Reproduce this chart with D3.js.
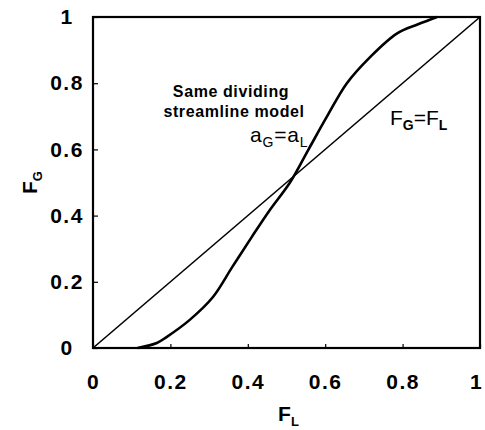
<!DOCTYPE html>
<html>
<head>
<meta charset="utf-8">
<script src="https://cdn.jsdelivr.net/npm/d3@7"></script>
<style>
  body { margin: 0; background: #fff; }
  svg text { font-family: "Liberation Sans", Arial, sans-serif; fill: #000; }
</style>
</head>
<body>
<div id="chart"></div>
<script>
// axis ticks
var ticks = [0, 0.2, 0.4, 0.6, 0.8, 1];
var tickLabels = ["0", "0.2", "0.4", "0.6", "0.8", "1"];

// same dividing streamline model curve
var curveFL = [0.115, 0.165, 0.19, 0.25, 0.31, 0.36, 0.41, 0.457, 0.509, 0.556, 0.604, 0.656, 0.716, 0.785, 0.84, 0.889];
var curveFG = [0, 0.015, 0.033, 0.085, 0.154, 0.245, 0.335, 0.417, 0.5, 0.598, 0.698, 0.8, 0.879, 0.95, 0.978, 1.0];

// FG = FL reference line
var diagFL = [0, 1];
var diagFG = [0, 1];

var margin = { top: 17, right: 5, bottom: 82, left: 93 },
    W = 485, H = 430,
    width = W - margin.left - margin.right,
    height = H - margin.top - margin.bottom;

var x = d3.scaleLinear().domain([0, 1]).range([0, width]);
var y = d3.scaleLinear().domain([0, 1]).range([height, 0]);

var svg = d3.select("#chart").append("svg")
    .attr("width", W)
    .attr("height", H)
  .append("g")
    .attr("transform", "translate(" + margin.left + "," + margin.top + ")");

// bottom axis, ticks pointing inward
var xAxis = svg.append("g")
    .attr("transform", "translate(0," + height + ")")
    .call(d3.axisBottom(x).tickValues(ticks).tickSize(-4).tickPadding(26)
      .tickFormat(function(d, i) { return tickLabels[i]; }));
xAxis.select(".domain").remove();
xAxis.selectAll("line").attr("stroke-width", 1.2);
xAxis.selectAll("text")
    .attr("font-size", 21).attr("font-weight", "bold")
    .attr("letter-spacing", 1.5)
    .attr("dx", function(d) { return d === 1 ? -4 : 0; })
    .attr("font-family", "Liberation Sans, Arial, sans-serif");

// left axis
var yAxis = svg.append("g")
    .call(d3.axisLeft(y).tickValues(ticks).tickSize(-5)
      .tickFormat(function(d, i) { return tickLabels[i]; }));
yAxis.select(".domain").remove();
yAxis.selectAll("line").attr("stroke-width", 1.2);
yAxis.selectAll("text")
    .attr("font-size", 21).attr("font-weight", "bold")
    .attr("letter-spacing", 1.5)
    .attr("text-anchor", "middle")
    .attr("x", -26)
    .attr("font-family", "Liberation Sans, Arial, sans-serif");

// frame
svg.append("rect")
    .attr("width", width)
    .attr("height", height)
    .attr("fill", "none")
    .attr("stroke", "#000")
    .attr("stroke-width", 2.2);

var line = d3.line()
    .x(function(d) { return x(d[0]); })
    .y(function(d) { return y(d[1]); });

svg.append("path")
    .datum(d3.zip(diagFL, diagFG))
    .attr("fill", "none")
    .attr("stroke", "#000")
    .attr("stroke-width", 1.6)
    .attr("d", line);

svg.append("path")
    .datum(d3.zip(curveFL, curveFG))
    .attr("fill", "none")
    .attr("stroke", "#000")
    .attr("stroke-width", 2.6)
    .attr("d", line.curve(d3.curveCatmullRom.alpha(0.5)));

// annotations
var note = svg.append("text")
    .attr("font-size", 16).attr("font-weight", "bold")
    .attr("text-anchor", "middle")
    .attr("letter-spacing", 0.6);
note.append("tspan").attr("x", 138).attr("y", 80).text("Same dividing");
note.append("tspan").attr("x", 141).attr("y", 100).text("streamline model");

var aText = svg.append("text")
    .attr("x", 157).attr("y", 125)
    .attr("font-size", 21)
    .attr("letter-spacing", 0.8);
aText.append("tspan").text("a");
aText.append("tspan").attr("font-size", 14).attr("dy", 5).text("G");
aText.append("tspan").attr("dy", -5).text("=a");
aText.append("tspan").attr("font-size", 14).attr("dy", 5).text("L");

var fText = svg.append("text")
    .attr("x", 297).attr("y", 108)
    .attr("font-size", 21);
fText.append("tspan").text("F");
fText.append("tspan").attr("font-size", 14).attr("font-weight", "bold").attr("dy", 5).text("G");
fText.append("tspan").attr("dy", -5).text("=F");
fText.append("tspan").attr("font-size", 14).attr("font-weight", "bold").attr("dy", 5).text("L");

// axis titles
var xt = svg.append("text")
    .attr("x", width / 2 + 2).attr("y", height + 73)
    .attr("text-anchor", "middle")
    .attr("font-size", 21).attr("font-weight", "bold");
xt.append("tspan").text("F");
xt.append("tspan").attr("font-size", 13).attr("dy", 5).text("L");

var yt = svg.append("text")
    .attr("transform", "translate(-56," + (height / 2) + ") rotate(-90)")
    .attr("text-anchor", "middle")
    .attr("font-size", 21).attr("font-weight", "bold");
yt.append("tspan").text("F");
yt.append("tspan").attr("font-size", 13).attr("dy", 5).text("G");
</script>
</body>
</html>
